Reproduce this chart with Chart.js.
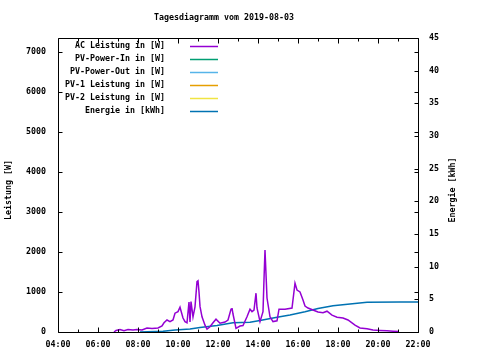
<!DOCTYPE html>
<html>
<head>
<meta charset="utf-8">
<script src="https://cdn.jsdelivr.net/npm/chart.js@4.4.1/dist/chart.umd.min.js"></script>
<style>
  html, body { margin: 0; padding: 0; background: #fff; }
  #wrap { width: 480px; height: 360px; }
</style>
</head>
<body>
<div id="wrap"><canvas id="day" width="480" height="360"></canvas></div>
<script>
// Tagesdiagramm 2019-08-03
const titleText = 'Tagesdiagramm vom 2019-08-03';
const hourTicks = [4, 6, 8, 10, 12, 14, 16, 18, 20, 22];
const powerTicks = [0, 1000, 2000, 3000, 4000, 5000, 6000, 7000];
const energyTicks = [0, 5, 10, 15, 20, 25, 30, 35, 40, 45];

// AC Leistung [W], time in hours
const acTime = [6.80,6.90,7.10,7.30,7.50,7.75,7.95,8.20,8.45,8.70,9.00,9.20,9.30,9.45,9.60,9.75,9.85,10.00,10.10,10.25,
  10.35,10.45,10.55,10.60,10.65,10.75,10.85,10.95,11.00,11.05,11.10,11.20,11.35,11.45,11.60,11.75,11.90,12.10,12.35,12.50,
  12.65,12.70,12.75,12.90,13.10,13.25,13.45,13.60,13.70,13.80,13.90,13.95,14.10,14.25,14.30,14.35,14.45,14.60,14.75,14.95,
  15.05,15.35,15.70,15.85,15.95,16.10,16.25,16.35,16.50,16.75,17.00,17.25,17.45,17.70,17.95,18.25,18.50,18.85,19.10,19.45,
  19.75,20.10,20.45,20.75,21.05];
const acPower = [0,40,60,30,60,50,60,50,100,90,100,150,230,300,260,300,470,510,620,350,
  260,230,750,250,760,380,630,1260,1280,1000,640,380,170,70,130,230,320,220,250,300,
  570,600,450,90,150,160,380,570,510,550,970,600,260,510,1320,2050,850,380,260,280,
  570,570,600,1220,1050,1000,800,650,600,550,500,480,520,420,370,350,300,170,100,80,
  50,40,30,20,10];

// Energie [kWh]
const enTime = [8.10,9.25,9.85,10.60,11.10,11.95,12.75,13.60,14.10,14.95,15.60,16.35,17.00,17.75,18.60,19.45,21.10,22.00];
const enValue = [0,0.1,0.3,0.45,0.7,1.0,1.4,1.5,1.75,2.25,2.6,3.1,3.6,4.0,4.3,4.55,4.6,4.6];

const FONT = '"DejaVu Sans Mono", "Liberation Mono", monospace';
const FSIZE = 8.3;
const fmtHour = v => String(v).padStart(2, '0') + ':00';
const pts = (xs, ys) => xs.map((x, i) => ({ x, y: ys[i] }));

const frame = {
  id: 'frame',
  afterDraw(chart) {
    const { ctx, chartArea: a, scales } = chart;
    const L = Math.round(a.left) + 0.5, R = Math.round(a.right) + 0.5;
    const T = Math.round(a.top) + 0.5, B = Math.round(a.bottom) + 0.5;
    ctx.save();
    ctx.strokeStyle = '#000';
    ctx.lineWidth = 1;
    ctx.beginPath();
    ctx.rect(L, T, R - L, B - T);
    // x ticks (hourly minor, 2h major), mirrored on top
    for (let h = 4; h <= 22; h++) {
      const x = Math.round(scales.x.getPixelForValue(h)) + 0.5;
      const len = h % 2 === 0 ? 5 : 3;
      ctx.moveTo(x, B); ctx.lineTo(x, B - len);
      ctx.moveTo(x, T); ctx.lineTo(x, T + len);
    }
    // left ticks, mirrored on the right border
    powerTicks.forEach(v => {
      const y = Math.round(scales.y.getPixelForValue(v)) + 0.5;
      ctx.moveTo(L, y); ctx.lineTo(L + 4, y);
      ctx.moveTo(R, y); ctx.lineTo(R - 4, y);
    });
    energyTicks.forEach(v => {
      const y = Math.round(scales.y2.getPixelForValue(v)) + 0.5;
      ctx.moveTo(R, y); ctx.lineTo(R - 4, y);
    });
    ctx.stroke();

    ctx.fillStyle = '#000';
    ctx.font = 'bold ' + FSIZE + 'px ' + FONT;
    ctx.textAlign = 'center';
    ctx.textBaseline = 'middle';
    ctx.fillText(titleText, 224, 18);
    ctx.save();
    ctx.translate(9, 190); ctx.rotate(-Math.PI / 2);
    ctx.fillText('Leistung [W]', 0, 0);
    ctx.restore();
    ctx.save();
    ctx.translate(453, 190); ctx.rotate(-Math.PI / 2);
    ctx.fillText('Energie [kWh]', 0, 0);
    ctx.restore();

    // key
    ctx.textAlign = 'right';
    chart.data.datasets.forEach((ds, i) => {
      const y = 46 + i * 13;
      ctx.fillStyle = '#000';
      ctx.fillText(ds.label, 165, y);
      ctx.strokeStyle = ds.borderColor;
      ctx.lineWidth = 1.5;
      ctx.beginPath();
      ctx.moveTo(190, y + 0.5); ctx.lineTo(218, y + 0.5);
      ctx.stroke();
    });
    ctx.restore();
  }
};

const tickFont = { family: FONT, size: FSIZE, weight: 'bold' };

new Chart(document.getElementById('day'), {
  type: 'line',
  data: { datasets: [
    { label: 'AC Leistung in [W]', data: pts(acTime, acPower), borderColor: '#9400d3', yAxisID: 'y' },
    { label: 'PV-Power-In in [W]', data: [], borderColor: '#009e73', yAxisID: 'y' },
    { label: 'PV-Power-Out in [W]', data: [], borderColor: '#56b4e9', yAxisID: 'y' },
    { label: 'PV-1 Leistung in [W]', data: [], borderColor: '#e69f00', yAxisID: 'y' },
    { label: 'PV-2 Leistung in [W]', data: [], borderColor: '#f0e442', yAxisID: 'y' },
    { label: 'Energie in [kWh]', data: pts(enTime, enValue), borderColor: '#0072b2', yAxisID: 'y2' }
  ]},
  options: {
    responsive: false, animation: false,
    layout: { padding: { top: 38, left: 0, right: 0, bottom: 0 } },
    elements: { point: { radius: 0 }, line: { borderWidth: 1.5, tension: 0, fill: false } },
    plugins: { legend: { display: false }, tooltip: { enabled: false } },
    scales: {
      x: { type: 'linear', min: 4, max: 22,
        afterFit: s => { s.height = 28; },
        afterBuildTicks: s => { s.ticks = hourTicks.map(value => ({ value })); },
        ticks: { color: '#000', font: tickFont, padding: 8, maxRotation: 0, autoSkip: false, callback: fmtHour },
        grid: { display: false, drawTicks: false }, border: { display: false } },
      y: { position: 'left', min: 0, max: 7350,
        afterFit: s => { s.width = 58; },
        afterBuildTicks: s => { s.ticks = powerTicks.map(value => ({ value })); },
        ticks: { color: '#000', font: tickFont, padding: 12, callback: v => String(v) },
        grid: { display: false, drawTicks: false }, border: { display: false } },
      y2: { position: 'right', min: 0, max: 45,
        afterFit: s => { s.width = 62; },
        afterBuildTicks: s => { s.ticks = energyTicks.map(value => ({ value })); },
        ticks: { color: '#000', font: tickFont, padding: 11, callback: v => String(v) },
        grid: { display: false, drawTicks: false }, border: { display: false } }
    }
  },
  plugins: [frame]
});
</script>
</body>
</html>
